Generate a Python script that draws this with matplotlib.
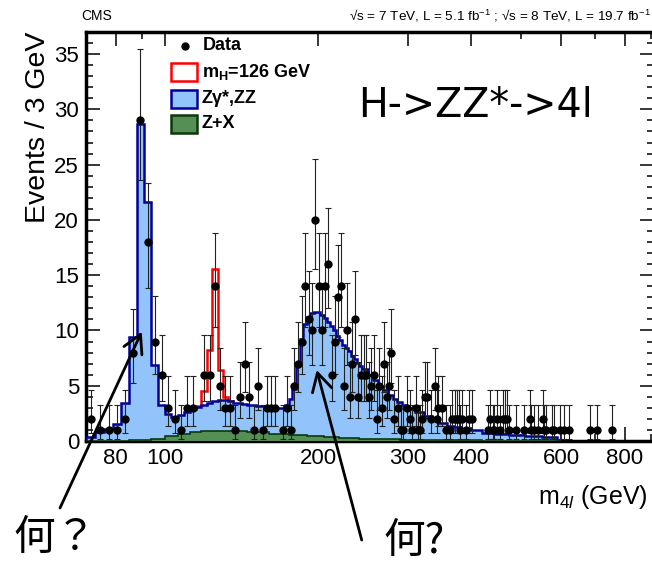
import numpy as np
import matplotlib
matplotlib.use('Agg')
import matplotlib.pyplot as plt
from matplotlib.patches import Rectangle
from matplotlib.lines import Line2D
from matplotlib.ticker import NullFormatter

plt.rcParams['font.family'] = ['Liberation Sans', 'DejaVu Sans']
plt.rcParams['mathtext.fontset'] = 'custom'
plt.rcParams['mathtext.rm'] = 'Liberation Sans'
plt.rcParams['mathtext.it'] = 'Liberation Sans:italic'
plt.rcParams['mathtext.bf'] = 'Liberation Sans:bold'

# observed events, 3 GeV bins (only non-empty bins are shown)
data_mass = [71.5, 74.5, 77.5, 80.5, 83.5, 86.5, 89.5, 92.5, 95.5, 98.5,
             101.5, 104.5, 107.5, 110.5, 113.5, 119.5, 122.5, 125.5, 128.5, 131.5,
             134.5, 137.5, 140.5, 143.5, 146.5, 149.5, 152.5, 155.5, 158.5, 161.5,
             164.5, 170.5, 173.5, 176.5, 179.5, 182.5, 185.5, 188.5, 191.5, 194.5,
             197.5, 200.5, 203.5, 206.5, 209.5, 212.5, 215.5, 218.5, 221.5, 224.5,
             227.5, 230.5, 233.5, 236.5, 239.5, 242.5, 245.5, 248.5, 251.5, 254.5,
             257.5, 260.5, 263.5, 266.5, 269.5, 272.5, 275.5, 278.5, 281.5, 287.5,
             290.5, 293.5, 299.5, 302.5, 305.5, 311.5, 314.5, 317.5, 320.5, 323.5,
             326.5, 332.5, 338.5, 341.5, 344.5, 350.5, 356.5, 362.5, 365.5, 371.5,
             374.5, 377.5, 380.5, 383.5, 389.5, 395.5, 401.5, 431.5, 434.5, 440.5,
             443.5, 449.5, 455.5, 461.5, 464.5, 470.5, 473.5, 488.5, 506.5, 521.5,
             524.5, 530.5, 539.5, 551.5, 554.5, 560.5, 575.5, 581.5, 596.5, 608.5,
             620.5, 683.5, 704.5, 755.5]
data_count = [2, 1, 1, 1, 2, 8, 29, 18, 9, 6,
              3, 2, 1, 3, 3, 6, 6, 14, 5, 3,
              3, 1, 4, 7, 4, 1, 5, 1, 3, 3,
              3, 1, 3, 1, 5, 7, 9, 14, 11, 10,
              20, 14, 10, 14, 16, 6, 9, 13, 14, 5,
              10, 4, 7, 11, 4, 6, 6, 6, 4, 5,
              6, 2, 5, 3, 7, 4, 5, 8, 2, 3,
              1, 1, 3, 2, 1, 3, 1, 1, 2, 4,
              4, 2, 5, 2, 3, 3, 1, 1, 2, 2,
              2, 2, 1, 2, 1, 2, 2, 1, 2, 1,
              1, 2, 1, 2, 2, 2, 1, 1, 1, 2,
              1, 1, 1, 2, 1, 1, 1, 1, 1, 1,
              1, 1, 1, 1]

# ZZ + Z+X stacked background
bkg_edges = list(range(70, 245, 3)) + [250, 256, 262, 268, 274, 280, 286, 292, 298, 304,
                                       310, 322, 334, 346, 358, 370, 382, 400, 420, 445,
                                       475, 510, 550, 590]
bkg_total = [0.4, 0.8, 1.1, 1.5, 3.4, 9.4, 28.7, 21.6, 6.9, 3.3,
             2.4, 2.15, 2.35, 2.6, 2.9, 3.1, 3.3, 3.45, 3.6, 3.75,
             3.7, 3.6, 3.45, 3.4, 3.35, 3.3, 3.25, 3.2, 3.15, 3.1,
             3.1, 3.05, 3.0, 2.95, 3.3, 3.8, 4.7, 7.0, 9.2, 10.6,
             11.2, 11.6, 11.7, 11.7, 11.4, 11.1, 10.8, 10.4, 10.0, 9.5,
             9.1, 8.7, 8.4, 8.1, 7.7, 7.4, 7.1, 6.8,
             6.5, 6.0, 5.5, 5.0, 4.6, 4.2, 3.8, 3.5, 3.3, 3.0,
             2.85, 2.6, 2.25, 1.95, 1.65, 1.4, 1.25, 1.1, 0.95, 0.75,
             0.62, 0.55, 0.48, 0.4]

# Z+X reducible background
zx_edges = [70, 85, 94, 100, 106, 112, 118, 124, 145, 160, 175, 190, 205, 220, 240,
            260, 290, 340, 420, 600]
zx_vals = [0.04, 0.08, 0.18, 0.42, 0.65, 0.8, 0.88, 0.92, 0.8, 0.66, 0.55, 0.44, 0.35,
           0.28, 0.22, 0.15, 0.09, 0.05, 0.03]

# signal + background around 126 GeV
sig_edges = [115, 118, 121, 124, 127, 130, 133, 136]
sig_total = [3.2, 4.5, 8.2, 15.6, 6.4, 4.0, 3.65]


def poisson_err(n):
    n = np.asarray(n, float)
    lo = n - n * (1 - 1 / (9 * n) - 1 / (3 * np.sqrt(n))) ** 3
    hi = (n + 1) * (1 - 1 / (9 * (n + 1)) + 1 / (3 * np.sqrt(n + 1))) ** 3 - n
    return lo, hi


W, H = 652, 564
fig = plt.figure(figsize=(W / 100, H / 100), dpi=100)
ax = fig.add_axes([86 / W, (H - 441) / H, (654 - 86) / W, (441 - 32) / H])

blue_fill = '#92c4fb'
blue_line = '#000099'
green_fill = '#558f55'
green_line = '#0a3a0a'

ax.stairs(sig_total, sig_edges, color='red', lw=1.8, zorder=2)
ax.stairs(bkg_total, bkg_edges, fill=True, color=blue_fill, zorder=3)
ax.stairs(bkg_total, bkg_edges, color=blue_line, lw=1.8, zorder=4)
ax.stairs(zx_vals, zx_edges, fill=True, color=green_fill, zorder=5)
ax.stairs(zx_vals, zx_edges, color=green_line, lw=1.2, zorder=6)

lo, hi = poisson_err(data_count)
ax.errorbar(data_mass, data_count, yerr=[lo, hi], fmt='o', color='black', ms=5,
            elinewidth=0.8, ecolor='#222222', capsize=2, capthick=0.8, zorder=7)

ax.set_xscale('log')
ax.set_xlim(70, 913)
ax.set_ylim(0, 37)
ax.set_xticks([80, 100, 200, 300, 400, 600, 800])
ax.set_xticklabels(['80', '100', '200', '300', '400', '600', '800'])
ax.set_xticks([70, 90, 500, 700, 900], minor=True)
ax.xaxis.set_minor_formatter(NullFormatter())
ax.set_yticks(range(0, 36, 5))
ax.set_yticks(range(0, 38), minor=True)
ax.tick_params(which='both', direction='in', top=True, right=True, labelsize=16, width=1.1)
ax.tick_params(which='major', length=10, pad=5)
ax.tick_params(which='minor', length=5)
for s in ax.spines.values():
    s.set_linewidth(2.5)

ax.set_ylabel('Events / 3 GeV', fontsize=20.5, loc='top')
ax.yaxis.set_label_coords(-0.062, 1.0)

fig.text(648 / W, 1 - 497 / H, r'm$_{4\mathit{l}}$ (GeV)', ha='right', va='center', fontsize=18)

# header
fig.text(81 / W, 1 - 16 / H, 'CMS', fontsize=10, va='center')
fig.text(349 / W, 1 - 16 / H,
         r'√s = 7 TeV, L = 5.1 fb$^{-1}$ ; √s = 8 TeV, L = 19.7 fb$^{-1}$',
         fontsize=9.7, va='center')

# legend
def fx(x):
    return x / W


def fy(y):
    return 1 - y / H


fig.add_artist(Line2D([fx(185)], [fy(46)], marker='o', color='black', ms=5,
                      transform=fig.transFigure))
fig.text(fx(203), fy(46), 'Data', fontsize=13, fontweight='bold', va='center')
boxes = [(63, 'white', 'red', r'$\mathbf{m_H}$=126 GeV'),
         (90, blue_fill, blue_line, 'Zγ*,ZZ'),
         (115, green_fill, green_line, 'Z+X')]
for top, fc, ec, lab in boxes:
    fig.add_artist(Rectangle((fx(171), fy(top + 18)), 26 / W, 18 / H, facecolor=fc,
                             edgecolor=ec, lw=1.8, transform=fig.transFigure))
    fig.text(fx(202), fy(top + 9), lab, fontsize=13, fontweight='bold', va='center')

fig.text(fx(358), fy(106), 'H->ZZ*->4l', fontsize=28.5, va='center',
         family=['DejaVu Sans'])

# annotations
arrow = dict(arrowstyle='->,head_length=1.0,head_width=0.55', lw=2, color='black',
             mutation_scale=13, shrinkA=0, shrinkB=0)
ax.annotate('', xy=(141.7, H - 331.7), xycoords='figure pixels',
            xytext=(60, H - 508), textcoords='figure pixels',
            arrowprops=arrow, annotation_clip=False, zorder=10)
ax.annotate('', xy=(316.7, H - 370), xycoords='figure pixels',
            xytext=(361.7, H - 540), textcoords='figure pixels',
            arrowprops=arrow, annotation_clip=False, zorder=10)
fig.text(fx(13), fy(538), '何？', fontsize=30, va='center',
         family=['Noto Sans CJK JP', 'DejaVu Sans'])
fig.text(fx(383), fy(541), '何?', fontsize=30, va='center',
         family=['Noto Sans CJK JP', 'DejaVu Sans'])

fig.savefig('out.png', dpi=100)
